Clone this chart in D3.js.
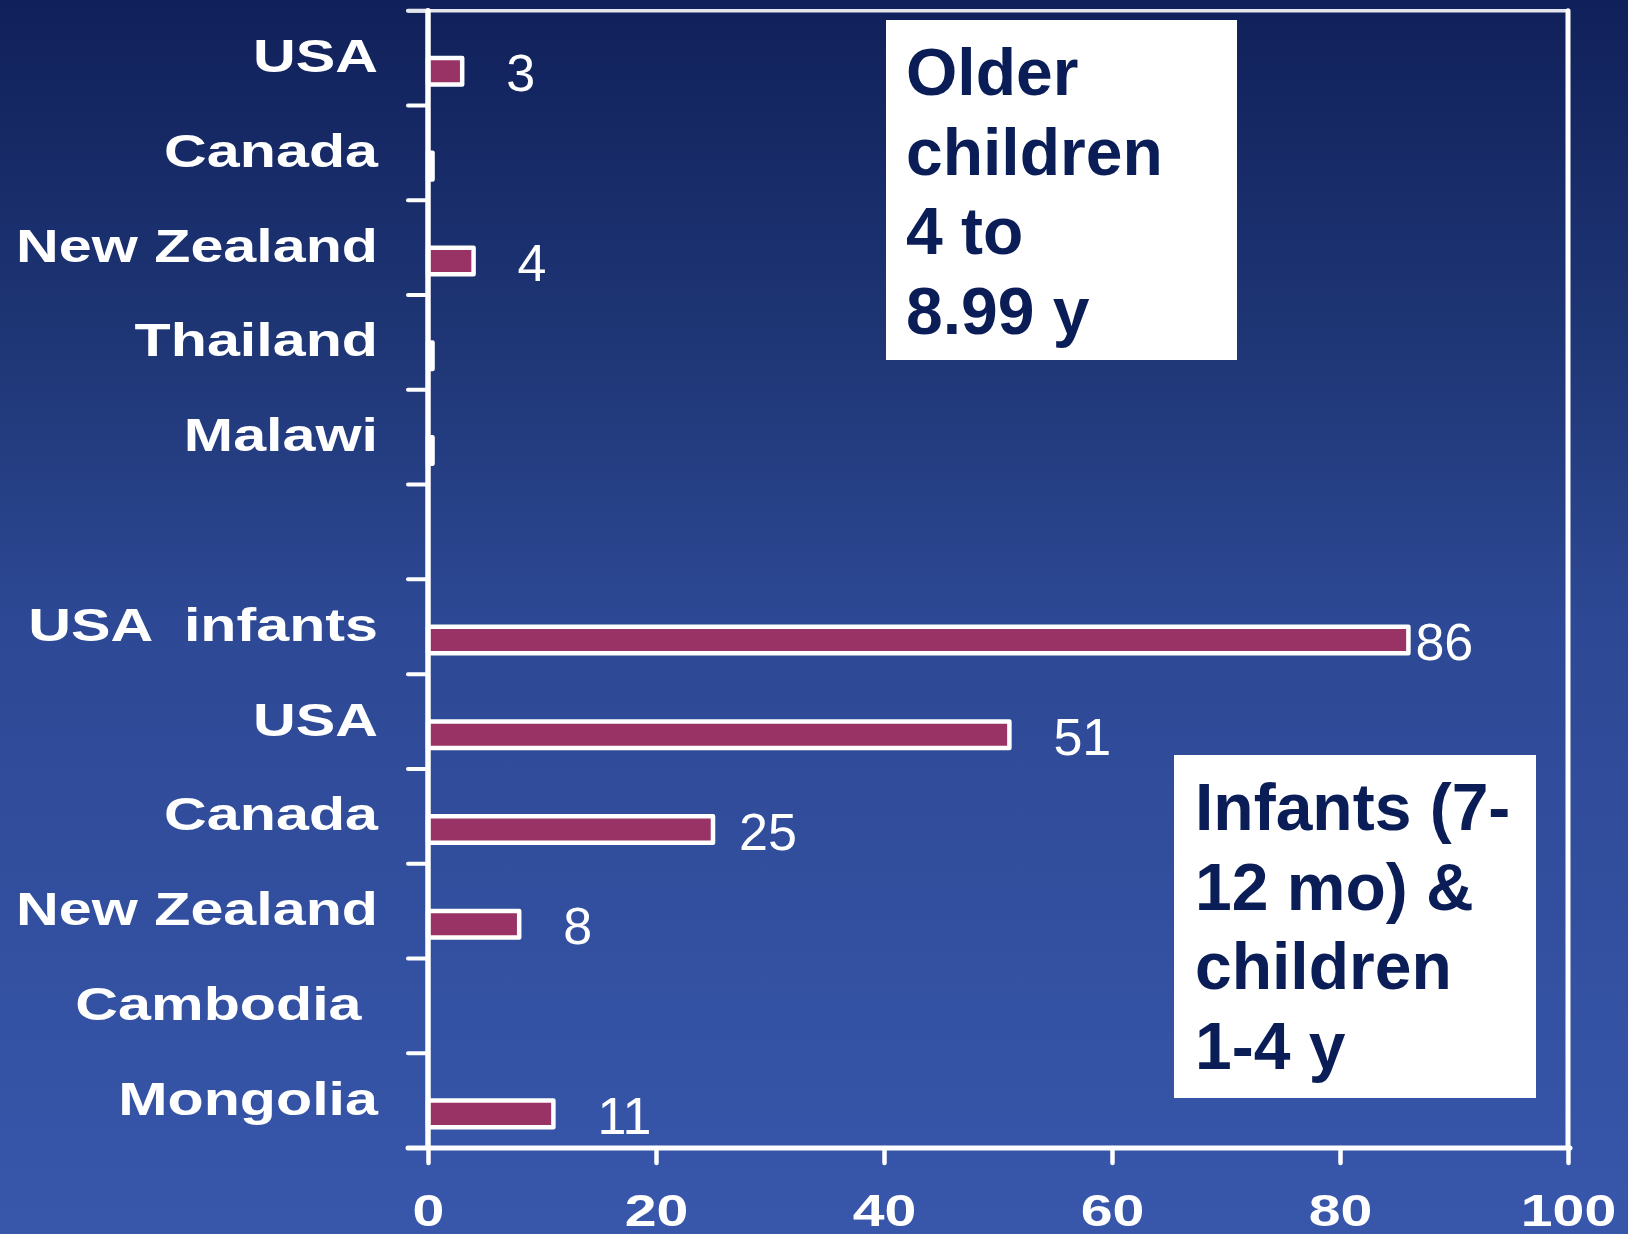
<!DOCTYPE html>
<html>
<head>
<meta charset="utf-8">
<script src="https://cdn.jsdelivr.net/npm/d3@7"></script>
<style>
  html, body { margin: 0; padding: 0; background: #2d4894; }
  svg { display: block; }
  text { font-family: "Liberation Sans", Arial, sans-serif; }
</style>
</head>
<body>
<svg id="chart" width="1628" height="1234"></svg>
<script>
// Rows from top to bottom; the blank row separates the two age groups.
const categoryKeys = ["usaOld", "canadaOld", "nzOld", "thailand", "malawi", "gap",
                      "usaInf", "usa", "canada", "nz", "cambodia", "mongolia"];
const categoryLabels = ["USA", "Canada", "New Zealand", "Thailand", "Malawi", "",
                        "USA  infants", "USA", "Canada", "New Zealand", "Cambodia ", "Mongolia"];
// Percentages; null means no bar. Very small values are drawn without a label.
const values = [3, 0.4, 4, 0.4, 0.4, null, 86, 51, 25, 8, null, 11];
const valueLabels = ["3", "", "4", "", "", "", "86", "51", "25", "8", "", "11"];
const xTickValues = [0, 20, 40, 60, 80, 100];
const olderNote = ["Older", "children", "4 to", "8.99 y"];
const infantNote = ["Infants (7-", "12 mo) &", "children", "1-4 y"];

const W = 1628, H = 1234;
const plotLeft = 428, plotRight = 1568, plotTop = 10.7, plotBottom = 1148;
// Gap between a bar's end and its value label; a few labels sit closer in.
const labelGap = 44;
const labelGapFor = { usaInf: 7, canada: 26 };
const svg = d3.select("#chart");

// Background gradient, dark navy at the top to a lighter blue at the bottom
const defs = svg.append("defs");
const grad = defs.append("linearGradient").attr("id", "bg")
  .attr("x1", 0).attr("y1", 0).attr("x2", 0).attr("y2", 1);
[[0, "#10205a"], [0.3, "#203878"], [0.5, "#2d4894"], [1, "#3857ab"]].forEach(([o, c]) =>
  grad.append("stop").attr("offset", o).attr("stop-color", c));
svg.append("rect").attr("width", W).attr("height", H).attr("fill", "url(#bg)");

const x = d3.scaleLinear().domain([0, 100]).range([plotLeft, plotRight]);
const y = d3.scaleBand().domain(categoryKeys).range([plotTop, plotBottom]).padding(0);
const bw = y.bandwidth();

const rows = categoryKeys.map((k, i) => ({
  key: k, label: categoryLabels[i], value: values[i], valueLabel: valueLabels[i]
}));

// Bars sit in the lower part of each row
const barTop = k => y(k) + bw * 0.50;
const barH = bw * 0.28;

svg.append("g").selectAll("rect")
  .data(rows.filter(d => d.value != null))
  .join("rect")
  .attr("x", x(0))
  .attr("y", d => barTop(d.key))
  .attr("width", d => x(d.value) - x(0))
  .attr("height", barH)
  .attr("fill", "#993366")
  .attr("stroke", "#ffffff")
  .attr("stroke-width", 4.5)
  .attr("stroke-linejoin", "round");

// Value labels to the right of the bars
svg.append("g").selectAll("text")
  .data(rows.filter(d => d.valueLabel))
  .join("text")
  .attr("x", d => x(d.value) + (labelGapFor[d.key] ?? labelGap))
  .attr("y", d => barTop(d.key) + barH / 2 + 20)
  .attr("fill", "#ffffff")
  .attr("font-size", 52)
  .text(d => d.valueLabel);

// Category labels, right-aligned against the axis
svg.append("g").selectAll("text")
  .data(rows.filter(d => d.label))
  .join("text")
  .attr("transform", d => `translate(378,${y(d.key) + bw / 2 + 14}) scale(1.26,1)`)
  .attr("text-anchor", "end")
  .attr("font-size", 47)
  .attr("font-weight", "bold")
  .attr("fill", "#ffffff")
  .style("white-space", "pre")
  .text(d => d.label);

// Frame and axes
const axisColor = "#ffffff";
const frame = svg.append("g").attr("stroke", axisColor).attr("stroke-linecap", "round");
const boundaries = categoryKeys.map(k => y(k)).concat([plotBottom]);
frame.selectAll("line.ytick").data(boundaries).join("line")
  .attr("class", "ytick")
  .attr("x1", plotLeft - 20).attr("x2", plotLeft)
  .attr("y1", d => d).attr("y2", d => d)
  .attr("stroke-width", 4);
frame.append("line").attr("x1", plotLeft - 20).attr("x2", plotRight).attr("y1", plotTop).attr("y2", plotTop)
  .attr("stroke-width", 3.5).attr("stroke", "#e4e6ee");
frame.append("line").attr("x1", plotRight).attr("x2", plotRight).attr("y1", plotTop).attr("y2", plotBottom)
  .attr("stroke-width", 5);

const xAxis = d3.axisBottom(x).tickValues(xTickValues).tickSize(15).tickPadding(0).tickFormat(d3.format("d"));
const gx = svg.append("g").attr("transform", `translate(0,${plotBottom})`).call(xAxis);
gx.select(".domain").remove();
gx.selectAll(".tick line").attr("stroke", axisColor).attr("stroke-width", 4.5).attr("stroke-linecap", "round");
gx.selectAll(".tick text")
  .attr("fill", "#ffffff")
  .attr("font-size", 44)
  .attr("font-weight", "bold")
  .attr("font-family", "'Liberation Sans', Arial, sans-serif")
  .attr("dy", null)
  .attr("y", 0)
  .attr("transform", "translate(0,78) scale(1.3,1)");

frame.append("line").attr("x1", plotLeft - 20).attr("x2", plotRight + 2).attr("y1", plotBottom).attr("y2", plotBottom)
  .attr("stroke-width", 5);
frame.append("line").attr("x1", plotLeft).attr("x2", plotLeft).attr("y1", plotTop).attr("y2", plotBottom)
  .attr("stroke-width", 5.5);

// Group notes
function note(lines, bx, by, w, h, tx, ty) {
  const g = svg.append("g");
  g.append("rect").attr("x", bx).attr("y", by).attr("width", w).attr("height", h).attr("fill", "#ffffff");
  g.selectAll("text").data(lines).join("text")
    .attr("x", tx).attr("y", (d, i) => ty + i * 79.5)
    .attr("font-size", 66).attr("font-weight", "bold").attr("fill", "#0b1d57")
    .text(d => d);
}
note(olderNote, 886, 20, 351, 340, 906, 95);
note(infantNote, 1174, 755, 362, 343, 1195, 830);
</script>
</body>
</html>
